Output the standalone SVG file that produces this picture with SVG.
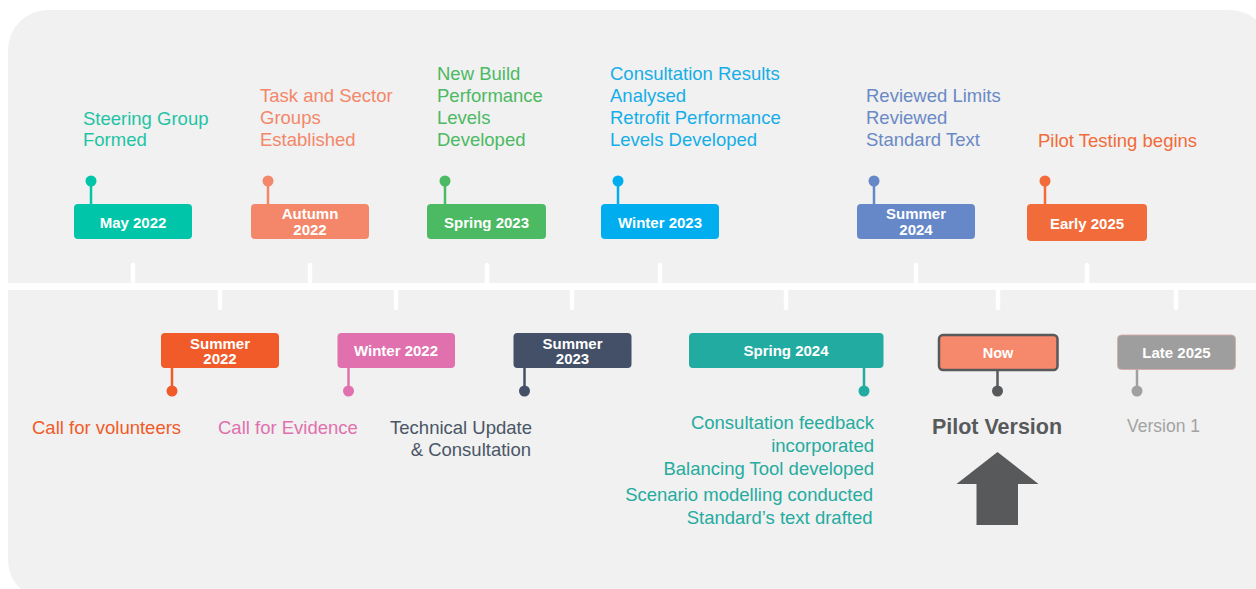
<svg xmlns="http://www.w3.org/2000/svg" width="1256" height="589" viewBox="0 0 1256 589">
  <style>
    text { font-family: "Liberation Sans", Arial, Helvetica, sans-serif; }
    .lbl { font-size: 15px; font-weight: bold; fill: #ffffff; text-anchor: middle; }
    .desc { font-size: 18.5px; }
    .tick { stroke: #ffffff; stroke-width: 4.5; stroke-linecap: round; }
    .pin { stroke-width: 2.5; }
  </style>

  <!-- panel -->
  <rect x="8" y="10" width="1262" height="590" rx="40" ry="40" fill="#f0f1f0"/>

  <!-- timeline axis and ticks -->
  <g id="connectors">
    <rect x="0" y="283" width="1256" height="7" fill="#ffffff"/>
    <line class="tick" x1="133" y1="265" x2="133" y2="284"/>
    <line class="tick" x1="310" y1="265" x2="310" y2="284"/>
    <line class="tick" x1="487" y1="265" x2="487" y2="284"/>
    <line class="tick" x1="660" y1="265" x2="660" y2="284"/>
    <line class="tick" x1="916" y1="265" x2="916" y2="284"/>
    <line class="tick" x1="1087" y1="265" x2="1087" y2="284"/>
    <line class="tick" x1="220" y1="289" x2="220" y2="308"/>
    <line class="tick" x1="396" y1="289" x2="396" y2="308"/>
    <line class="tick" x1="572" y1="289" x2="572" y2="308"/>
    <line class="tick" x1="786" y1="289" x2="786" y2="308"/>
    <line class="tick" x1="998" y1="289" x2="998" y2="308"/>
    <line class="tick" x1="1176" y1="289" x2="1176" y2="308"/>
  </g>

  <!-- upper milestones -->
  <g id="may-2022">
    <line class="pin" x1="91" y1="181" x2="91" y2="205" stroke="#00c5a9"/>
    <circle cx="91" cy="181" r="5.5" fill="#00c5a9"/>
    <rect x="74" y="204" width="118" height="35" rx="4" fill="#00c5a9"/>
    <text class="lbl" x="133" y="228">May 2022</text>
    <text class="desc" fill="#1fc3a5" x="83"><tspan x="83" y="125">Steering Group</tspan><tspan x="83" y="146">Formed</tspan></text>
  </g>

  <g id="autumn-2022">
    <line class="pin" x1="268" y1="181" x2="268" y2="205" stroke="#f4876a"/>
    <circle cx="268" cy="181" r="5.5" fill="#f4876a"/>
    <rect x="251" y="204" width="118" height="35" rx="4" fill="#f4876a"/>
    <text class="lbl" x="310"><tspan x="310" y="219">Autumn</tspan><tspan x="310" y="235">2022</tspan></text>
    <text class="desc" fill="#f4876a"><tspan x="260" y="102">Task and Sector</tspan><tspan x="260" y="124">Groups</tspan><tspan x="260" y="146">Established</tspan></text>
  </g>

  <g id="spring-2023">
    <line class="pin" x1="445" y1="181" x2="445" y2="205" stroke="#4cb963"/>
    <circle cx="445" cy="181" r="5.5" fill="#4cb963"/>
    <rect x="427" y="204" width="119" height="35" rx="4" fill="#4cb963"/>
    <text class="lbl" x="486.5" y="228">Spring 2023</text>
    <text class="desc" fill="#4cb963"><tspan x="437" y="80">New Build</tspan><tspan x="437" y="102">Performance</tspan><tspan x="437" y="124">Levels</tspan><tspan x="437" y="146">Developed</tspan></text>
  </g>

  <g id="winter-2023">
    <line class="pin" x1="618" y1="181" x2="618" y2="205" stroke="#00aeef"/>
    <circle cx="618" cy="181" r="5.5" fill="#00aeef"/>
    <rect x="601" y="204" width="118" height="35" rx="4" fill="#00aeef"/>
    <text class="lbl" x="660" y="228">Winter 2023</text>
    <text class="desc" fill="#16aee8"><tspan x="610" y="80">Consultation Results</tspan><tspan x="610" y="102">Analysed</tspan><tspan x="610" y="124">Retrofit Performance</tspan><tspan x="610" y="146">Levels Developed</tspan></text>
  </g>

  <g id="summer-2024">
    <line class="pin" x1="874" y1="181" x2="874" y2="205" stroke="#6687c8"/>
    <circle cx="874" cy="181" r="5.5" fill="#6687c8"/>
    <rect x="857" y="204" width="118" height="35" rx="4" fill="#6687c8"/>
    <text class="lbl" x="916"><tspan x="916" y="219">Summer</tspan><tspan x="916" y="235">2024</tspan></text>
    <text class="desc" fill="#6a89c6"><tspan x="866" y="102">Reviewed Limits</tspan><tspan x="866" y="124">Reviewed</tspan><tspan x="866" y="146">Standard Text</tspan></text>
  </g>

  <g id="early-2025">
    <line class="pin" x1="1045" y1="181" x2="1045" y2="205" stroke="#f26b3a"/>
    <circle cx="1045" cy="181" r="5.5" fill="#f26b3a"/>
    <rect x="1027" y="204" width="120" height="37" rx="4" fill="#f26b3a"/>
    <text class="lbl" x="1087" y="228.5">Early 2025</text>
    <text class="desc" fill="#f26b3a" x="1038" y="147">Pilot Testing begins</text>
  </g>

  <!-- lower milestones -->
  <g id="summer-2022">
    <line class="pin" x1="172" y1="367" x2="172" y2="391" stroke="#f15a29"/>
    <circle cx="172" cy="391" r="5.5" fill="#f15a29"/>
    <rect x="161" y="333" width="118" height="35" rx="4" fill="#f15a29"/>
    <text class="lbl" x="220"><tspan x="220" y="349">Summer</tspan><tspan x="220" y="364">2022</tspan></text>
    <text class="desc" fill="#f15a29" x="32" y="434">Call for volunteers</text>
  </g>

  <g id="winter-2022">
    <line class="pin" x1="348.5" y1="367" x2="348.5" y2="391" stroke="#e070ae"/>
    <circle cx="348.5" cy="391" r="5.5" fill="#e070ae"/>
    <rect x="337.5" y="333" width="117.5" height="35" rx="4" fill="#e070ae"/>
    <text class="lbl" x="396" y="356">Winter 2022</text>
    <text class="desc" fill="#e070ae" x="218" y="434">Call for Evidence</text>
  </g>

  <g id="summer-2023">
    <line class="pin" x1="524.5" y1="367" x2="524.5" y2="391" stroke="#435068"/>
    <circle cx="524.5" cy="391" r="5.5" fill="#435068"/>
    <rect x="513.5" y="333" width="118" height="35" rx="4" fill="#435068"/>
    <text class="lbl" x="572.5"><tspan x="572.5" y="349">Summer</tspan><tspan x="572.5" y="364">2023</tspan></text>
    <text class="desc" fill="#4a5567" text-anchor="end"><tspan x="532" y="434">Technical Update</tspan><tspan x="531" y="456">&amp; Consultation</tspan></text>
  </g>

  <g id="spring-2024">
    <line class="pin" x1="864" y1="367" x2="864" y2="391" stroke="#22aba0"/>
    <circle cx="864" cy="391" r="5.5" fill="#22aba0"/>
    <rect x="689" y="333" width="194.5" height="35" rx="4" fill="#22aba0"/>
    <text class="lbl" x="786" y="356">Spring 2024</text>
    <text class="desc" fill="#26aba0" text-anchor="end"><tspan x="874" y="429">Consultation feedback</tspan><tspan x="874" y="452">incorporated</tspan><tspan x="874" y="475">Balancing Tool developed</tspan><tspan x="873" y="501">Scenario modelling conducted</tspan><tspan x="872.5" y="524">Standard’s text drafted</tspan></text>
  </g>

  <g id="now">
    <line class="pin" x1="997.5" y1="369" x2="997.5" y2="391" stroke="#58595b"/>
    <circle cx="997.5" cy="391" r="5.5" fill="#58595b"/>
    <rect x="939" y="335" width="118.5" height="35" rx="4" fill="#f6896b" stroke="#58595b" stroke-width="2.5"/>
    <text class="lbl" x="998" y="357.5" style="font-size:14.5px">Now</text>
    <text x="997" y="434" fill="#58595b" text-anchor="middle" style="font-size:21.5px;font-weight:bold">Pilot Version</text>
    <polygon points="997.5,452 1038.5,484 1018,484 1018,525 976.5,525 976.5,484 956.5,484" fill="#58595b"/>
  </g>

  <g id="late-2025">
    <line class="pin" x1="1137" y1="369" x2="1137" y2="391" stroke="#a0a0a0"/>
    <circle cx="1137" cy="391" r="5.5" fill="#a0a0a0"/>
    <rect x="1117.5" y="335" width="118" height="34.5" rx="4" fill="#9e9e9e" stroke="#d7a9a6" stroke-width="0.8"/>
    <text class="lbl" x="1176.5" y="357.5">Late 2025</text>
    <text x="1127" y="432" fill="#a3a3a3" style="font-size:17.5px">Version 1</text>
  </g>
</svg>
